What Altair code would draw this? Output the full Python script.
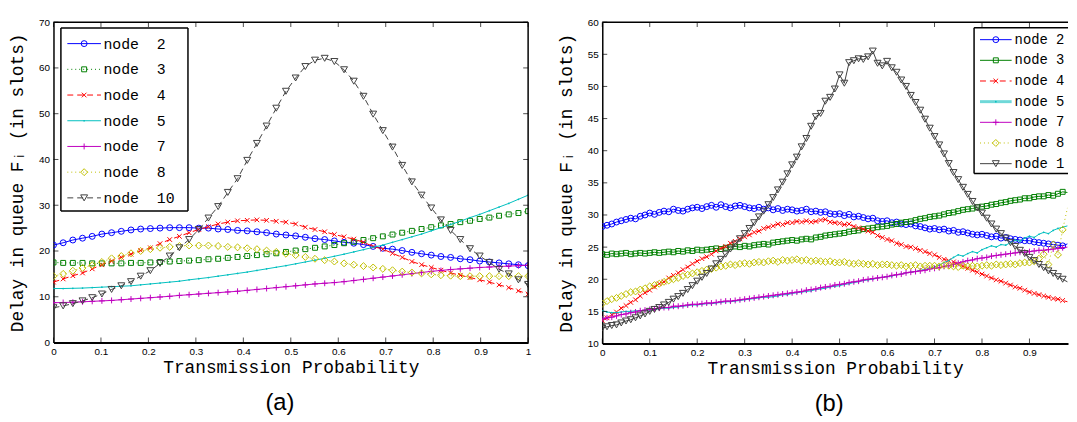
import altair as alt
import pandas as pd

NODES = ["node 2", "node 3", "node 4", "node 5", "node 7", "node 8", "node 10"]

# ---------------- panel (a): 50 samples on [0, 1] ----------------
XA = [round(k / 49, 4) for k in range(50)]
A_NODE2 = [21.3, 21.8, 22.4, 22.8, 23.2, 23.7, 24.0, 24.3, 24.6, 24.8,
           24.9, 25.0, 25.1, 25.1, 25.1, 25.0, 25.0, 24.8, 24.7, 24.5,
           24.4, 24.2, 24.0, 23.7, 23.5, 23.3, 23.0, 22.7, 22.5, 22.2,
           21.9, 21.7, 21.4, 21.0, 20.6, 20.4, 20.1, 19.7, 19.4, 19.1,
           18.8, 18.6, 18.3, 18.1, 17.8, 17.6, 17.4, 17.2, 17.0, 16.8]
A_NODE3 = [17.5, 17.4, 17.4, 17.4, 17.3, 17.3, 17.3, 17.3, 17.4, 17.4,
           17.5, 17.6, 17.7, 17.8, 17.9, 18.0, 18.2, 18.3, 18.5, 18.7,
           18.9, 19.1, 19.3, 19.5, 19.8, 20.1, 20.4, 20.7, 21.0, 21.3,
           21.7, 22.0, 22.4, 22.8, 23.2, 23.6, 24.0, 24.4, 24.8, 25.2,
           25.6, 25.9, 26.3, 26.6, 27.0, 27.3, 27.7, 28.0, 28.3, 28.7]
A_NODE4 = [13.2, 13.9, 14.6, 15.2, 16.1, 17.0, 17.8, 18.6, 19.3, 20.1,
           20.7, 21.6, 22.5, 23.2, 24.0, 24.7, 25.3, 25.9, 26.3, 26.6,
           26.7, 26.8, 26.7, 26.5, 26.3, 25.9, 25.2, 24.7, 24.2, 23.6,
           23.1, 22.6, 21.9, 21.0, 20.4, 19.5, 18.6, 17.7, 17.0, 16.4,
           15.8, 15.2, 14.7, 14.2, 13.7, 13.2, 12.6, 12.0, 11.3, 10.6]
A_NODE5 = [11.8, 11.8, 11.85, 11.9, 12.0, 12.1, 12.2, 12.3, 12.4, 12.6,
           12.8, 13.0, 13.2, 13.4, 13.7, 13.95, 14.2, 14.5, 14.8, 15.1,
           15.4, 15.75, 16.1, 16.45, 16.8, 17.2, 17.6, 18.0, 18.4, 18.85,
           19.3, 19.8, 20.3, 20.8, 21.3, 21.9, 22.5, 23.1, 23.7, 24.4,
           25.1, 25.8, 26.5, 27.3, 28.0, 28.8, 29.6, 30.4, 31.3, 32.2]
A_NODE7 = [8.7, 8.75, 8.8, 8.9, 9.0, 9.1, 9.2, 9.35, 9.5, 9.65,
           9.8, 9.95, 10.1, 10.3, 10.45, 10.6, 10.75, 10.9, 11.05, 11.2,
           11.4, 11.6, 11.8, 12.0, 12.2, 12.4, 12.6, 12.8, 12.95, 13.1,
           13.3, 13.55, 13.8, 14.05, 14.3, 14.55, 14.8, 15.05, 15.3, 15.55,
           15.75, 15.95, 16.1, 16.25, 16.4, 16.5, 16.6, 16.7, 16.8, 16.9]
A_NODE8 = [14.5, 15.0, 15.7, 16.3, 16.9, 17.6, 18.4, 18.9, 19.5, 20.0,
           20.4, 20.7, 20.9, 21.1, 21.2, 21.2, 21.2, 21.1, 20.9, 20.8,
           20.6, 20.4, 20.1, 19.8, 19.4, 19.1, 18.7, 18.3, 18.0, 17.7,
           17.3, 17.0, 16.7, 16.4, 16.1, 15.8, 15.5, 15.3, 15.1, 14.9,
           14.7, 14.6, 14.5, 14.5, 14.5, 14.5, 14.5, 14.5, 14.5, 14.5]
A_NODE10 = [7.6, 8.0, 8.5, 9.1, 9.8, 10.6, 11.6, 12.4, 13.3, 14.5,
            15.7, 17.3, 18.9, 20.7, 22.5, 24.7, 27.2, 29.7, 32.8, 35.8,
            39.8, 43.5, 47.3, 51.2, 54.9, 57.8, 60.3, 61.7, 62.1, 61.4,
            59.6, 57.1, 53.8, 49.9, 46.3, 42.7, 38.7, 35.1, 32.2, 29.4,
            26.8, 24.5, 22.5, 20.5, 18.9, 17.5, 16.0, 15.0, 13.7, 12.7]

# ---------------- panel (b): 99 samples on [0, 0.98] ----------------
XB = [round(k / 100, 2) for k in range(99)]
B_NODE2 = [28.2, 28.4, 28.6, 28.9, 29.1, 29.3, 29.5, 29.4, 29.8, 30.0,
           30.3, 30.1, 30.4, 30.6, 30.5, 30.9, 30.7, 30.6, 30.9, 31.1,
           31.2, 31.0, 31.3, 31.5, 31.2, 31.6, 31.3, 31.1, 31.4, 31.5,
           31.3, 31.1, 31.0, 31.2, 30.9, 31.1, 30.8, 31.0, 30.7, 30.9,
           30.8, 30.6, 30.7, 30.9, 30.5, 30.6, 30.4, 30.5, 30.2, 30.1,
           30.2, 29.9, 30.1, 29.7, 29.8, 29.6, 29.4, 29.5, 29.1, 29.0,
           29.1, 28.8, 28.9, 28.6, 28.5, 28.6, 28.3, 28.2, 28.0, 27.8,
           27.9, 27.7, 27.8, 27.5, 27.6, 27.3, 27.4, 27.2, 27.0, 26.9,
           27.0, 26.8, 26.6, 26.7, 26.4, 26.5, 26.3, 26.2, 26.1, 26.0,
           26.0, 25.8, 25.7, 25.6, 25.5, 25.4, 25.3, 25.2, 25.5]
B_NODE3 = [23.9, 23.8, 24.0, 23.9, 24.0, 24.1, 23.9, 24.0, 24.1, 24.0,
           24.1, 24.2, 24.1, 24.2, 24.3, 24.2, 24.4, 24.3, 24.5, 24.4,
           24.6, 24.5, 24.6, 24.7, 24.8, 24.7, 24.9, 25.0, 25.1, 25.0,
           25.2, 25.1, 25.3, 25.4, 25.5, 25.4, 25.7, 25.8, 25.9, 26.0,
           26.1, 26.0, 26.2, 26.3, 26.2, 26.5, 26.6, 26.8, 26.9, 27.0,
           27.1, 27.2, 27.4, 27.5, 27.6, 27.8, 27.9, 28.0, 28.1, 28.2,
           28.3, 28.5, 28.6, 28.8, 28.9, 29.0, 29.2, 29.4, 29.5, 29.7,
           29.8, 29.9, 30.1, 30.3, 30.4, 30.6, 30.8, 30.9, 31.0, 31.2,
           31.3, 31.4, 31.6, 31.7, 31.9, 32.0, 32.2, 32.3, 32.4, 32.6,
           32.6, 32.8, 32.9, 32.9, 33.1, 33.0, 33.3, 33.6, 33.5]
B_NODE4 = [13.6, 14.0, 14.5, 14.9, 15.5, 15.9, 16.4, 16.8, 17.4, 17.9,
           18.3, 18.8, 19.3, 19.6, 20.2, 20.6, 21.0, 21.5, 21.9, 22.4,
           22.8, 23.2, 23.5, 23.9, 24.4, 24.8, 25.1, 25.6, 25.9, 26.3,
           26.6, 26.9, 27.3, 27.5, 27.9, 28.1, 28.3, 28.6, 28.5, 28.8,
           28.8, 29.0, 28.9, 29.1, 28.9, 29.0, 29.2, 29.3, 28.9, 28.8,
           28.7, 28.5, 28.6, 28.2, 28.0, 27.8, 27.5, 27.3, 26.8, 26.5,
           26.2, 26.0, 25.6, 25.4, 25.1, 25.0, 24.8, 24.5, 24.3, 24.0,
           23.8, 23.4, 23.1, 22.9, 22.7, 22.4, 22.0, 21.7, 21.4, 21.1,
           20.8, 20.5, 20.2, 19.9, 19.7, 19.4, 19.1, 18.8, 18.6, 18.3,
           18.0, 17.8, 17.6, 17.4, 17.2, 17.0, 16.9, 16.7, 16.5]
B_NODE5 = [15.1, 14.9, 14.8, 14.8, 14.9, 15.0, 15.0, 15.1, 15.1, 15.2,
           15.2, 15.3, 15.4, 15.5, 15.5, 15.6, 15.7, 15.8, 15.9, 16.0,
           16.0, 16.1, 16.2, 16.2, 16.3, 16.4, 16.5, 16.5, 16.6, 16.7,
           16.8, 16.9, 17.0, 17.1, 17.2, 17.2, 17.3, 17.4, 17.6, 17.6,
           17.8, 17.9, 18.0, 18.1, 18.2, 18.4, 18.5, 18.6, 18.8, 18.9,
           19.0, 19.2, 19.3, 19.5, 19.6, 19.8, 19.9, 20.0, 20.2, 20.3,
           20.4, 20.5, 20.7, 20.8, 21.0, 21.1, 21.2, 21.4, 21.5, 21.7,
           21.9, 22.2, 22.6, 22.9, 23.4, 23.8, 23.6, 24.0, 24.3, 24.1,
           24.6, 24.9, 25.2, 25.0, 25.4, 25.3, 25.7, 26.1, 25.9, 26.4,
           26.7, 26.5, 27.0, 27.3, 27.1, 27.6, 27.9, 28.1, 28.3]
B_NODE7 = [13.8, 14.0, 14.1, 14.3, 14.5, 14.6, 14.8, 14.9, 15.1, 15.2,
           15.3, 15.4, 15.5, 15.6, 15.6, 15.8, 15.8, 15.9, 16.0, 16.1,
           16.1, 16.2, 16.3, 16.3, 16.4, 16.5, 16.6, 16.6, 16.7, 16.8,
           16.9, 17.0, 17.1, 17.2, 17.3, 17.4, 17.5, 17.6, 17.7, 17.8,
           17.9, 18.0, 18.1, 18.3, 18.4, 18.5, 18.7, 18.8, 18.9, 19.1,
           19.2, 19.3, 19.5, 19.6, 19.7, 19.9, 20.0, 20.1, 20.2, 20.3,
           20.4, 20.6, 20.7, 20.8, 21.0, 21.1, 21.2, 21.3, 21.4, 21.6,
           21.7, 21.8, 22.0, 22.1, 22.3, 22.5, 22.7, 22.9, 23.0, 23.2,
           23.3, 23.4, 23.6, 23.7, 23.8, 23.9, 24.0, 24.1, 24.2, 24.2,
           24.3, 24.4, 24.5, 24.5, 24.6, 24.7, 24.8, 24.9, 25.0]
B_NODE8 = [16.2, 16.6, 16.9, 17.1, 17.4, 17.7, 18.0, 18.1, 18.4, 18.6,
           18.9, 19.1, 19.3, 19.6, 19.8, 20.0, 20.2, 20.5, 20.7, 20.9,
           21.1, 21.3, 21.5, 21.6, 21.8, 22.0, 22.1, 22.3, 22.2, 22.4,
           22.5, 22.4, 22.6, 22.7, 22.6, 22.8, 22.9, 22.7, 23.0, 22.9,
           23.0, 23.1, 22.9, 23.0, 22.8, 22.9, 22.8, 22.7, 22.8, 22.6,
           22.6, 22.7, 22.5, 22.4, 22.5, 22.4, 22.3, 22.4, 22.2, 22.3,
           22.3, 22.2, 22.1, 22.2, 22.0, 22.1, 22.2, 22.0, 22.1, 22.1,
           22.1, 22.0, 22.2, 22.1, 22.0, 21.9, 22.1, 22.0, 22.1, 22.0,
           22.1, 22.2, 22.1, 22.3, 22.2, 22.3, 22.4, 22.3, 22.5, 22.6,
           22.6, 22.8, 23.2, 23.9, 22.3, 25.4, 23.8, 27.7, 31.1]
B_NODE10 = [12.4, 12.6, 12.8, 12.9, 13.2, 13.5, 13.7, 14.0, 14.3, 14.6,
            15.0, 15.3, 15.6, 16.0, 16.4, 16.9, 17.3, 17.8, 18.4, 19.0,
            19.7, 20.3, 20.9, 21.6, 22.4, 23.1, 23.9, 24.7, 25.5, 26.3,
            27.1, 27.9, 28.8, 29.7, 30.6, 31.6, 32.7, 33.9, 35.1, 36.4,
            37.8, 39.0, 40.6, 41.9, 43.8, 45.3, 45.8, 47.7, 48.3, 49.6,
            51.8, 50.5, 53.7, 54.0, 54.3, 54.2, 54.6, 55.5, 53.6, 53.2,
            53.9, 52.9, 52.2, 51.0, 50.0, 48.6, 47.5, 46.3, 44.9, 43.5,
            42.2, 40.9, 39.5, 38.0, 36.6, 35.5, 34.3, 33.2, 32.1, 31.1,
            30.3, 29.5, 28.6, 27.8, 27.1, 26.4, 25.7, 25.1, 24.5, 24.0,
            23.4, 22.9, 22.3, 21.8, 21.3, 20.9, 20.4, 20.0, 19.6]

XTICKS_A = [0, 0.1, 0.2, 0.3, 0.4, 0.5, 0.6, 0.7, 0.8, 0.9, 1]
YTICKS_A = [0, 10, 20, 30, 40, 50, 60, 70]
XTICKS_B = [0, 0.1, 0.2, 0.3, 0.4, 0.5, 0.6, 0.7, 0.8, 0.9]
YTICKS_B = [10, 15, 20, 25, 30, 35, 40, 45, 50, 55, 60]

NB = "\u00a0"
LEG_A = ["node" + NB * 2 + n for n in ["2", "3", "4", "5", "7", "8", "10"]]
LEG_B = ["node" + NB + n for n in ["2", "3", "4", "5", "7", "8", "10"]]

# ---------------- styling ----------------
MONO = "Liberation Mono, DejaVu Sans Mono, monospace"
TICKFONT = "Liberation Sans Narrow, Liberation Sans, Arial, sans-serif"
COLORS = {"node 2": "#0000FF", "node 3": "#008000", "node 4": "#FF0000",
          "node 5": "#00BFBF", "node 7": "#BF00BF", "node 8": "#BFBF00",
          "node 10": "#404040"}
X_PATH = "M-1,-1L1,1M-1,1L1,-1"
PLUS_PATH = "M-1,0L1,0M0,-1L0,1"
MARKERS = {"node 2": dict(shape="circle", size=36, filled=False),
           "node 3": dict(shape="square", size=25, filled=False),
           "node 4": dict(shape=X_PATH, size=22, filled=False),
           "node 5": dict(shape="circle", size=3, filled=True),
           "node 7": dict(shape=PLUS_PATH, size=36, filled=False),
           "node 8": dict(shape="diamond", size=49, filled=False),
           "node 10": dict(shape="triangle-down", size=49, filled=False)}
DASH_A = {"node 3": [1, 3], "node 4": [6, 4], "node 8": [1, 3], "node 10": [6, 4]}
DASH_B = {"node 4": [6, 4], "node 8": [1, 3]}

ONE = pd.DataFrame({"k": [0]})


def rule(x0, x1, y0, y1, **kw):
    enc = dict(x=alt.value(x0), y=alt.value(y0))
    if x1 is not None:
        enc["x2"] = alt.value(x1)
    if y1 is not None:
        enc["y2"] = alt.value(y1)
    return alt.Chart(ONE).mark_rule(**kw).encode(**enc)


def panel(xs, series, dashes, W, H, xdom, ydom, xt, yt, leg, caption, cap_dx,
          right_border, marker_xmax):
    xsc = alt.Scale(domain=xdom, nice=False, zero=False)
    ysc = alt.Scale(domain=ydom, nice=False, zero=False)
    xax = alt.Axis(values=xt, format="~g", title="Transmission Probability",
                   titleFont=MONO, titleFontSize=18, titleFontWeight="normal",
                   titleColor="black", labelFont=TICKFONT, labelFontSize=10,
                   labelColor="black", ticks=False, grid=False, domainColor="black",
                   domainWidth=2, labelPadding=4, titlePadding=2, labelFlush=False)
    yax = alt.Axis(values=yt, title="Delay in queue F\u1d62 (in slots)",
                   titleFont=MONO, titleFontSize=18, titleFontWeight="normal",
                   titleColor="black", labelFont=TICKFONT, labelFontSize=10,
                   labelColor="black", ticks=False, grid=False, domainColor="black",
                   domainWidth=1.5, labelPadding=4, titlePadding=12, labelFlush=False)
    X = lambda f: alt.X(f, scale=xsc, axis=xax)
    Y = lambda f: alt.Y(f, scale=ysc, axis=yax)
    layers = []
    for name in NODES:
        df = pd.DataFrame({"x": xs, "y": series[name]})
        lkw = dict(color=COLORS[name], strokeWidth=1, clip=True)
        if name in dashes:
            lkw["strokeDash"] = dashes[name]
        layers.append(alt.Chart(df).mark_line(**lkw).encode(x=X("x:Q"), y=Y("y:Q")))
        dfp = df[df["x"] <= marker_xmax]
        layers.append(alt.Chart(dfp).mark_point(color=COLORS[name], strokeWidth=1, opacity=1,
                                                clip=True, **MARKERS[name]).encode(
            x=X("x:Q"), y=Y("y:Q")))
    # frame (top / right) and inward ticks
    layers.append(rule(0, W, 0, None, color="black", strokeWidth=1.5))
    if right_border:
        layers.append(rule(W, None, 0, H, color="black", strokeWidth=1.5))
    xtdf = pd.DataFrame({"x": xt})
    ytdf = pd.DataFrame({"y": yt})
    for yy in (H - 2.5, 2.5):
        layers.append(alt.Chart(xtdf).mark_tick(orient="vertical", size=5, thickness=1,
                                                color="black").encode(
            x=X("x:Q"), y=alt.value(yy)))
    ypos = [2.5] + ([W - 2.5] if right_border else [])
    for xx in ypos:
        layers.append(alt.Chart(ytdf).mark_tick(orient="horizontal", size=5, thickness=1,
                                                color="black").encode(
            y=Y("y:Q"), x=alt.value(xx)))
    # legend box (white fill, black edges; right edge only if inside the view)
    g = leg
    layers.append(alt.Chart(ONE).mark_rect(fill="white").encode(
        x=alt.value(g["x0"]), x2=alt.value(g["x1"]), y=alt.value(g["y0"]),
        y2=alt.value(g["y1"])))
    bk = dict(color="black", strokeWidth=1.5)
    layers.append(rule(g["x0"], g["x1"], g["y0"], None, **bk))
    layers.append(rule(g["x0"], g["x1"], g["y1"], None, **bk))
    layers.append(rule(g["x0"], None, g["y0"], g["y1"], **bk))
    if g["x1"] < W:
        layers.append(rule(g["x1"], None, g["y0"], g["y1"], **bk))
    for j, name in enumerate(NODES):
        ry = g["row0"] + j * g["step"]
        rkw = dict(color=COLORS[name], strokeWidth=1)
        if name in g["dash"]:
            rkw["strokeDash"] = g["dash"][name]
        if name == "node 5" and g.get("thick5"):
            rkw = dict(color="#6FD8D8", strokeWidth=3)
        layers.append(rule(g["lx0"], g["lx1"], ry, None, **rkw))
        layers.append(alt.Chart(ONE).mark_point(color=COLORS[name], strokeWidth=1, opacity=1,
                                                **MARKERS[name]).encode(
            x=alt.value((g["lx0"] + g["lx1"]) / 2), y=alt.value(ry)))
        layers.append(alt.Chart(ONE).mark_text(align="left", baseline="middle", font=MONO,
                                               fontSize=g["fs"], color="black",
                                               limit=W - g["tx"] - 1,
                                               ellipsis="\u200b").encode(
            x=alt.value(g["tx"]), y=alt.value(ry), text=alt.value(g["labels"][j])))
    # caption
    layers.append(alt.Chart(ONE).mark_text(font="Liberation Sans", fontSize=24,
                                           color="black", baseline="middle").encode(
        x=alt.value(W / 2 + cap_dx), y=alt.value(H + 61), text=alt.value(caption)))
    return alt.layer(*layers).properties(width=W, height=H)


series_a = dict(zip(NODES, [A_NODE2, A_NODE3, A_NODE4, A_NODE5, A_NODE7, A_NODE8, A_NODE10]))
series_b = dict(zip(NODES, [B_NODE2, B_NODE3, B_NODE4, B_NODE5, B_NODE7, B_NODE8, B_NODE10]))

WA, HA = 480, 324
WB, HB = 471, 325

leg_a = dict(x0=7.5, x1=136, y0=6, y1=191, row0=21.7, step=26, lx0=14, lx1=48, tx=50.5,
             fs=15, labels=LEG_A, dash=DASH_A)
leg_b = dict(x0=376, x1=WB, y0=5.7, y1=153, row0=17.7, step=20.9, lx0=382, lx1=414,
             tx=417, fs=14, labels=LEG_B, dash=DASH_B, thick5=True)

pa = panel(XA, series_a, DASH_A, WA, HA, [0, 1], [0, 70], XTICKS_A, YTICKS_A, leg_a,
           "(a)", -11, True, 1.0)
pb = panel(XB, series_b, DASH_B, WB, HB, [0, WB / 480], [10, 60], XTICKS_B, YTICKS_B, leg_b,
           "(b)", -6, False, 0.975)

chart = alt.hconcat(pa, pb, spacing=26).properties(
    padding={"left": 0, "top": 7, "right": 0, "bottom": 0}
).configure_view(stroke=None)

chart.save("out.html", embed_options={"renderer": "svg", "actions": False})
